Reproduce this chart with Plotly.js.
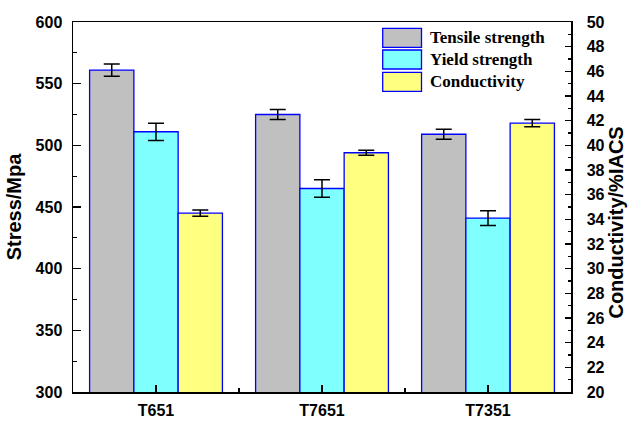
<!DOCTYPE html>
<html><head><meta charset="utf-8">
<script src="https://cdn.plot.ly/plotly-3.0.1.min.js"></script>
<style>html,body{margin:0;padding:0;background:#fff}#chart{width:628px;height:421px}</style>
</head><body><div id="chart"></div>
<script>
const categories = ["T651", "T7651", "T7351"];
const tensile = [561, 525, 509];
const tensileErr = [5, 4, 4];
const yieldS = [511, 465, 441];
const yieldErr = [7, 7, 6];
const conductivity = [34.5, 39.4, 41.8];
const conductivityErr = [0.25, 0.2, 0.3];
const seriesNames = ["Tensile strength", "Yield strength", "Conductivity"];
const seriesColors = ["#c0c0c0", "#80ffff", "#ffff80"];

const xs = categories.map((c, i) => i);
const W = 0.2667;
const offsets = [-0.4, -0.4 + W, -0.4 + 2 * W];
const errStyle = {type: 'data', visible: true, color: '#000', thickness: 1.5, width: 8};

function barTrace(k, y, err, axis) {
  return {
    type: 'bar', x: xs, y: y, name: seriesNames[k], yaxis: axis,
    width: W, offset: offsets[k],
    marker: {color: seriesColors[k], line: {color: '#0000ff', width: 1.3}},
    error_y: Object.assign({array: err}, errStyle),
    showlegend: false, hoverinfo: 'x+y'
  };
}
const data = [
  barTrace(0, tensile, tensileErr, 'y'),
  barTrace(1, yieldS, yieldErr, 'y'),
  barTrace(2, conductivity, conductivityErr, 'y2')
];

const tickFont = {family: 'Liberation Sans, Arial, sans-serif', size: 16, color: '#000', weight: 'bold'};

// custom legend
const shapes = [];
const annotations = [];
const legTop = [0.9830, 0.9243, 0.8641];
const legBot = [0.9316, 0.8730, 0.8127];
for (let k = 0; k < 3; k++) {
  shapes.push({type: 'rect', xref: 'paper', yref: 'paper', x0: 0.6219, x1: 0.6998,
    y0: legBot[k], y1: legTop[k], fillcolor: seriesColors[k], line: {color: '#0000ff', width: 1.3}});
  annotations.push({xref: 'paper', yref: 'paper', x: 0.7135, y: (legTop[k] + legBot[k]) / 2,
    xanchor: 'left', yanchor: 'middle', text: seriesNames[k], showarrow: false,
    font: {family: 'Liberation Serif, Times New Roman, serif', size: 17, color: '#000', weight: 'bold'}});
}
// right axis title
annotations.push({xref: 'paper', yref: 'paper', x: 1.0904, y: 0.458, xanchor: 'center', yanchor: 'middle',
  textangle: -90, showarrow: false, text: 'Conductivity/%IACS', borderpad: 0,
  font: {family: 'Liberation Sans, Arial, sans-serif', size: 20, color: '#000', weight: 'bold'}});

const layout = {
  width: 628, height: 421,
  margin: {l: 73, r: 57, t: 22, b: 29, pad: 0},
  paper_bgcolor: '#fff', plot_bgcolor: '#fff',
  barmode: 'overlay',
  showlegend: false,
  xaxis: {
    type: 'linear', range: [-0.5, 2.5], tickmode: 'array', tickvals: xs, ticktext: categories,
    ticks: 'inside', ticklen: 7, tickwidth: 1.3, tickcolor: '#000',
    minor: {ticks: 'inside', tickmode: 'linear', tick0: 0.5, dtick: 1, ticklen: 4, tickwidth: 1.3, tickcolor: '#000'},
    showline: true, linecolor: '#000', linewidth: 1.5, mirror: true,
    showgrid: false, zeroline: false, tickfont: tickFont, ticklabelstandoff: 3
  },
  yaxis: {
    range: [300, 600], dtick: 50, tick0: 300,
    ticks: 'inside', ticklen: 8, tickwidth: 1.3, tickcolor: '#000',
    minor: {ticks: 'inside', dtick: 25, ticklen: 4, tickwidth: 1.3, tickcolor: '#000'},
    showline: true, linecolor: '#000', linewidth: 1.5,
    showgrid: false, zeroline: false, tickfont: tickFont, ticklabelstandoff: 6,
    title: {text: 'Stress/Mpa', font: {family: 'Liberation Sans, Arial, sans-serif', size: 20, color: '#000', weight: 'bold'}, standoff: 8}
  },
  yaxis2: {
    overlaying: 'y', side: 'right', range: [20, 50], dtick: 2, tick0: 20,
    ticks: 'inside', ticklen: 6, tickwidth: 1.3, tickcolor: '#000',
    minor: {ticks: 'inside', dtick: 1, ticklen: 3, tickwidth: 1.3, tickcolor: '#000'},
    showline: true, linecolor: '#000', linewidth: 1.5,
    showgrid: false, zeroline: false, tickfont: tickFont, ticklabelstandoff: 11
  },
  shapes: shapes,
  annotations: annotations
};
Plotly.newPlot('chart', data, layout, {displayModeBar: false, staticPlot: true});
</script></body></html>
